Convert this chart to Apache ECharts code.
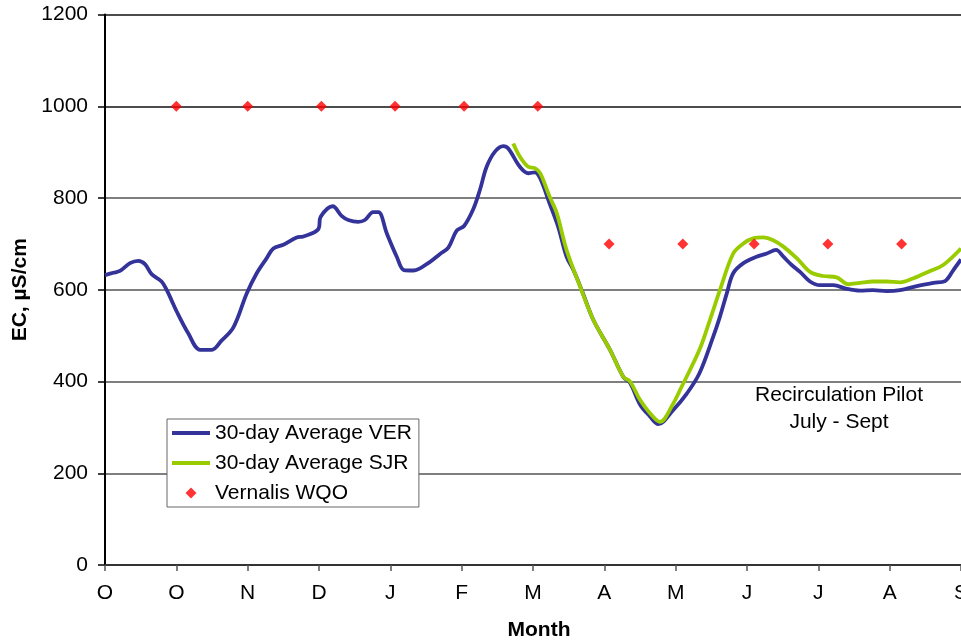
<!DOCTYPE html>
<html>
<head>
<meta charset="utf-8">
<script src="https://cdn.jsdelivr.net/npm/echarts@6/dist/echarts.min.js"></script>
<style>
html,body{margin:0;padding:0;background:#fff;}
#chart{width:961px;height:641px;}
</style>
</head>
<body>
<div id="chart"></div>
<script>
// Month tick labels (one every 30 days, starting at day 0)
const monthLabels = ['O','O','N','D','J','F','M','A','M','J','J','A','S'];

// 30-day Average VER (day, EC)
const verDays = [0,3.5,6.3,10.5,14,16.8,19.6,23.8,26,30.2,35,40,44.9,49,54,59.6,63.8,68,70.8,75,80.6,83.4,89.7,90.7,95.8,99.5,102.3,106.5,109.3,112.8,115,118.5,122.7,125.7,129.7,136.7,140.9,144.4,147.9,151,154.9,157.7,160.5,164,167.5,169.6,174.5,178,180.8,183,187,190.6,194.1,197,200.5,205.4,212.4,218,220.8,225,229,232.7,239,244.6,250,255.8,258.6,261.5,264.2,268.5,274,278.3,282.2,285.3,288.8,292.3,296.5,300.7,306.3,311.9,317.5,323,328.7,334.3,341.4,348.4,353.3,356.8,360];
const verValues = [632,637,641,658,663,656,634,618,599,552,505,469,469,489,518,592,636,669,690,698,714,716,732,759,782,761,752,748,752,769,769,723,672,643,642,661,678,692,729,739,776,818,868,901,913,908,868,854,856,843,788,737,672,643,599,534,469,410,397,350,325,307,338,373,418,498,541,592,636,658,672,679,687,672,654,639,618,610,610,602,598,599,597,599,608,615,619,643,666];

// 30-day Average SJR (day, EC)
const sjrDays = [171.7,174.5,178,180.8,183,187,190,194.1,199.8,205.4,212.4,218,220.8,225,229.2,233.4,239,241.8,250,254.4,258.6,264.2,268.5,272.6,276.9,281,285.3,290.9,296.5,302,307.7,312.6,317.5,323,328.7,334.3,340,347,352.5,360];
const sjrValues = [919,890,868,865,854,803,767,687,607,534,469,410,400,360,331,312,352,381,469,534,599,679,701,712,714,708,694,669,639,630,627,612,615,618,618,616,625,641,654,690];

// Vernalis WQO objective (day, EC)
const wqoDays = [30,60,91,122,151,182,212,243,273,304,335];
const wqoValues = [1000,1000,1000,1000,1000,1000,700,700,700,700,700];

const zip = (xs, ys) => xs.map((x, i) => [x, ys[i]]);
const FONT = '"Liberation Sans", Arial, sans-serif';
const LINE_ICON = 'path://M0,0 L38,0 L38,3.8 L0,3.8 Z';
const DIAMOND_ICON = 'path://M5,0 L10,5 L5,10 L0,5 Z';

const chart = echarts.init(document.getElementById('chart'), null, {renderer: 'canvas'});
chart.setOption({
  animation: false,
  backgroundColor: '#ffffff',
  textStyle: {fontFamily: FONT, color: '#000'},
  grid: {left: 105, right: 0, top: 14.5, bottom: 76, containLabel: false, outerBoundsMode: 'none'},
  legend: {
    orient: 'vertical',
    left: 167, top: 419,
    padding: [1, 7, 1, 5],
    backgroundColor: '#fff',
    borderColor: '#666',
    borderWidth: 1,
    borderRadius: 0,
    itemWidth: 38, itemHeight: 11, itemGap: 4,
    symbolKeepAspect: true,
    textStyle: {fontFamily: FONT, fontSize: 21, lineHeight: 26, color: '#000'},
    data: [
      {name: '30-day Average VER', icon: LINE_ICON},
      {name: '30-day Average SJR', icon: LINE_ICON},
      {name: 'Vernalis WQO', icon: DIAMOND_ICON}
    ]
  },
  xAxis: {
    type: 'value', min: 0, max: 360, interval: 30,
    name: 'Month', nameLocation: 'middle', nameGap: 55,
    nameTextStyle: {fontFamily: FONT, fontSize: 21, fontWeight: 'bold', color: '#000', padding: [0, 0, 0, 12]},
    axisLine: {show: true, onZero: false, lineStyle: {color: '#333', width: 2}},
    axisTick: {show: true, inside: false, length: 6, lineStyle: {color: '#555', width: 1.5}},
    axisLabel: {margin: 18, fontFamily: FONT, fontSize: 21, color: '#000', hideOverlap: false,
      formatter: v => monthLabels[Math.round(v / 30)] || ''},
    splitLine: {show: false}
  },
  yAxis: {
    type: 'value', min: 0, max: 1200, interval: 200,
    name: 'EC, µS/cm', nameLocation: 'middle', nameGap: 73,
    nameTextStyle: {fontFamily: FONT, fontSize: 21, fontWeight: 'bold', color: '#000'},
    axisLine: {show: true, lineStyle: {color: '#000', width: 2}},
    axisTick: {show: true, inside: false, length: 7, lineStyle: {color: '#000', width: 1.5}},
    axisLabel: {margin: 17, fontFamily: FONT, fontSize: 21, color: '#000', formatter: v => String(v)},
    splitLine: {show: true, lineStyle: {color: ['#555','#555','#555','#555','#555','#111','#111'], width: 1.5}}
  },
  series: [
    {
      name: '30-day Average VER', type: 'line', data: zip(verDays, verValues),
      symbol: 'none', smooth: 0.35,
      lineStyle: {color: '#333399', width: 3.8}, itemStyle: {color: '#333399'}, z: 2
    },
    {
      name: '30-day Average SJR', type: 'line', data: zip(sjrDays, sjrValues),
      symbol: 'none', smooth: 0.35,
      lineStyle: {color: '#99CC00', width: 3.8}, itemStyle: {color: '#99CC00'}, z: 3
    },
    {
      name: 'Vernalis WQO', type: 'scatter', data: zip(wqoDays, wqoValues),
      symbol: 'diamond', symbolSize: 11,
      itemStyle: {color: '#FF0000'}, z: 4
    }
  ],
  graphic: [{
    type: 'text', x: 839, y: 381.5,
    style: {text: 'Recirculation Pilot\nJuly - Sept', fill: '#000', font: '21px ' + FONT,
      textAlign: 'center', textVerticalAlign: 'top', lineHeight: 27}
  }]
});
</script>
</body>
</html>
